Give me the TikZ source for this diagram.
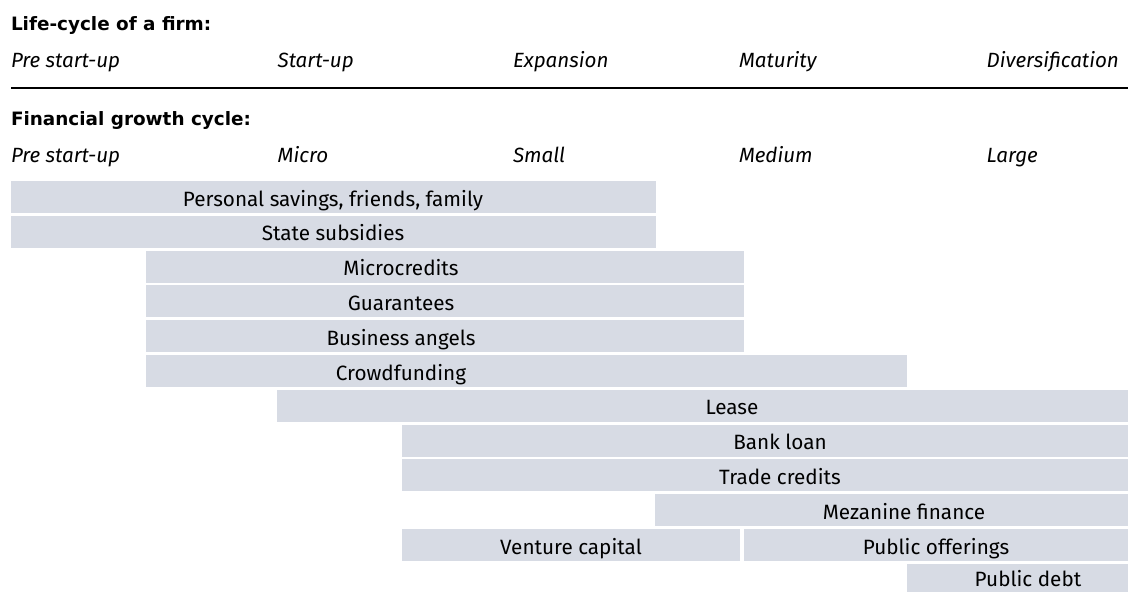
\documentclass[tikz,border=0pt]{standalone}
\usepackage{fontspec}
\setmainfont{Fira Sans}
\newfontfamily\headfont{DejaVu Sans}
\definecolor{barfill}{RGB}{215,219,228}
\tikzset{
  txt/.style={inner sep=0pt, outer sep=0pt, anchor=base, font=\fontsize{20.7}{24}\selectfont},
  lbl/.style={inner sep=0pt, outer sep=0pt, anchor=base west, font=\fontsize{20.6}{24}\selectfont\itshape},
  head/.style={inner sep=0pt, outer sep=0pt, anchor=base west, font=\headfont\fontsize{18.4}{22}\selectfont\bfseries},
  barbox/.style={fill=barfill, draw=none},
}
\begin{document}
\begin{tikzpicture}[x=1pt,y=-1pt]
\useasboundingbox (0,0) rectangle (1128,592);
% headers
\node[head] (h1) at (11,30.7) {Life-cycle of a firm:};
\node[lbl] (l1) at (11,67.7) {Pre start-up};
\node[lbl] (l2) at (277.7,67.7) {Start-up};
\node[lbl] (l3) at (513,67.7) {Expansion};
\node[lbl] (l4) at (739,67.7) {Maturity};
\node[lbl] (l5) at (986.7,67.7) {Diversification};
\coordinate (ruleL) at (11,87.7);
\coordinate (ruleR) at (1128,87.7);
\draw[line width=2pt] (ruleL) -- (ruleR);
\node[head] (h2) at (11,125) {Financial growth cycle:};
\node[lbl] (f1) at (11,162.7) {Pre start-up};
\node[lbl] (f2) at (277.7,162.7) {Micro};
\node[lbl] (f3) at (513,162.7) {Small};
\node[lbl] (f4) at (739,162.7) {Medium};
\node[lbl] (f5) at (986.7,162.7) {Large};
% bars
\path[barbox] (11,181) rectangle (656,213);
\node[txt] (b1) at (333,206) {Personal savings, friends, family};
\path[barbox] (11,215.8) rectangle (656,247.8);
\node[txt] (b2) at (333,240.8) {State subsidies};
\path[barbox] (146,250.6) rectangle (744,282.6);
\node[txt] (b3) at (401,275.6) {Microcredits};
\path[barbox] (146,285.4) rectangle (744,317.4);
\node[txt] (b4) at (401,310.4) {Guarantees};
\path[barbox] (146,320.2) rectangle (744,352.2);
\node[txt] (b5) at (401,345.2) {Business angels};
\path[barbox] (146,355) rectangle (907,387);
\node[txt] (b6) at (401,380) {Crowdfunding};
\path[barbox] (277,389.8) rectangle (1128,421.8);
\node[txt] (b7) at (732,414.8) {Lease};
\path[barbox] (402,424.6) rectangle (1128,456.6);
\node[txt] (b8) at (780,449.6) {Bank loan};
\path[barbox] (402,459.4) rectangle (1128,491.4);
\node[txt] (b9) at (780,484.4) {Trade credits};
\path[barbox] (655,494.2) rectangle (1128,526.2);
\node[txt] (b10) at (904,519.2) {Mezanine finance};
\path[barbox] (402,529) rectangle (740,561);
\node[txt] (b11) at (571,554) {Venture capital};
\path[barbox] (744,529) rectangle (1128,561);
\node[txt] (b12) at (936,554) {Public offerings};
\path[barbox] (907,563.8) rectangle (1128,592);
\node[txt] (b13) at (1028,586.7) {Public debt};
\end{tikzpicture}
\end{document}
